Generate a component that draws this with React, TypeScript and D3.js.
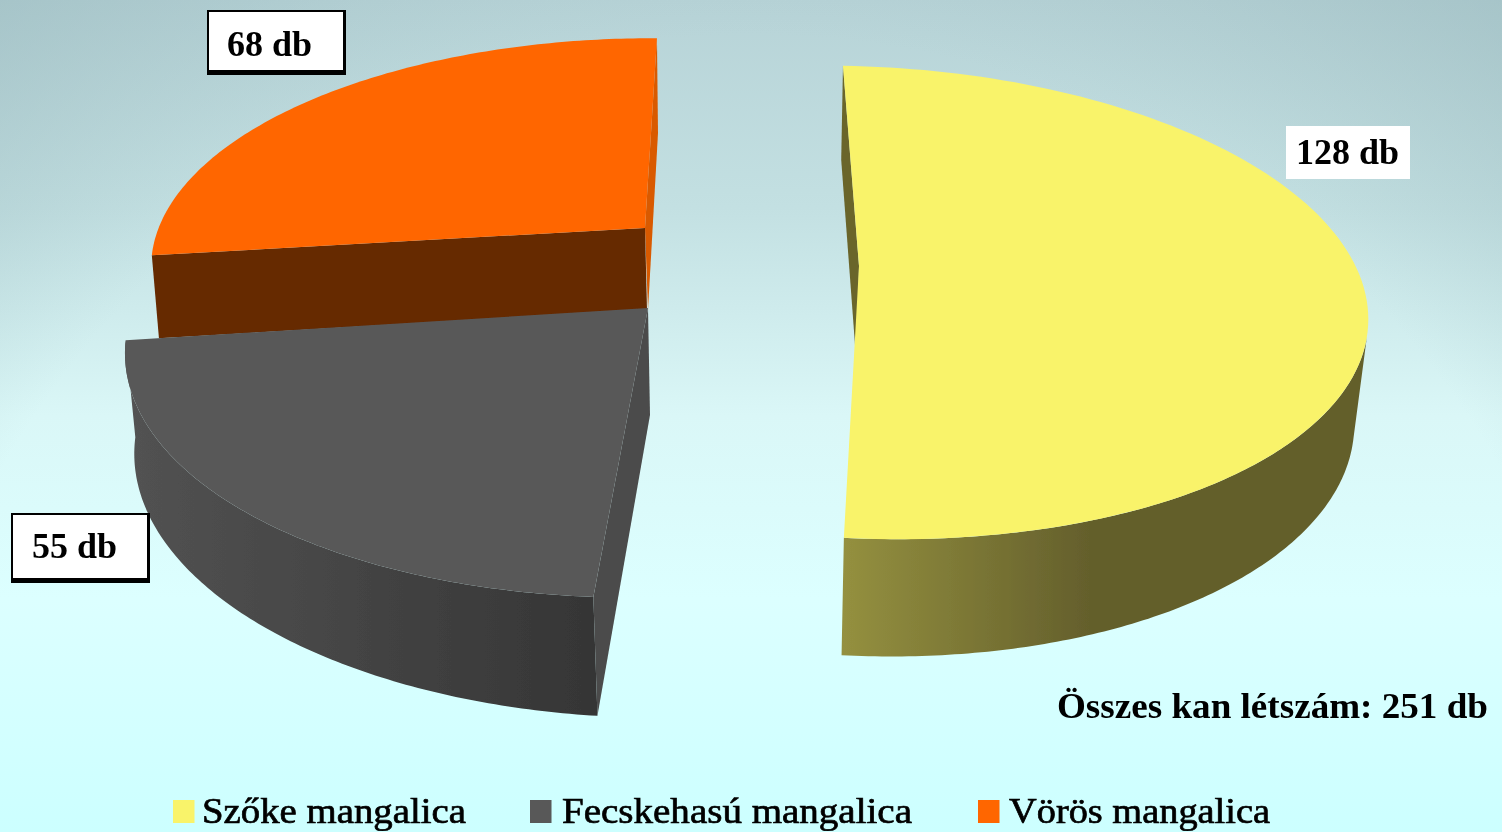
import React from "react";
import * as d3 from "d3";

const categories = ["Szőke mangalica", "Fecskehasú mangalica", "Vörös mangalica"];
const values = [128, 55, 68];
const valueLabels = ["128 db", "55 db", "68 db"];
const totalLabel = "Összes kan létszám: 251 db";
const topColors = ["#f9f36a", "#595959", "#ff6600"];

const W = 1502;
const H = 832;

type Frame = { a: number[]; u: number[]; v: number[]; k: number };
// Perspective frames of the exploded slices: rim of the top face, rim of the bottom face
const frames: { top: Frame; bottom: Frame }[] = [
  {
    top: { a: [859, 266], u: [500, 7.8], v: [-18.5, -231], k: 0.154 },
    bottom: { a: [856.6, 366], u: [487, 6.5], v: [-18, -241], k: 0.17 },
  },
  {
    top: { a: [648, 308], u: [514.4, 0.5], v: [14.1, -245], k: 0.154 },
    bottom: { a: [650, 415], u: [506, 11.2], v: [12, -251], k: 0.17 },
  },
  {
    top: { a: [645, 228], u: [485.6, 2], v: [13.8, -219], k: 0.154 },
    bottom: { a: [647, 310], u: [480, 2], v: [10, -225], k: 0.17 },
  },
];

const project = (f: Frame, t: number): [number, number] => {
  const s = Math.sin(t);
  const c = Math.cos(t);
  const d = 1 + f.k * c;
  return [f.a[0] + (s * f.u[0] + c * f.v[0]) / d, f.a[1] + (s * f.u[1] + c * f.v[1]) / d];
};

const arcs = d3.pie<number>().sort(null).startAngle(0).endAngle(2 * Math.PI)(values);
const rim = (f: Frame, a0: number, a1: number): [number, number][] =>
  d3.range(0, 121).map((i) => project(f, a0 + ((a1 - a0) * i) / 120));
const line = d3.line();
const poly = (pts: [number, number][]) => (line(pts) as string) + "Z";

const labelBoxes = [
  { x: 1286, y: 126, w: 124, h: 53, tx: 1296, ty: 164, border: false },
  { x: 13, y: 515, w: 134, h: 63, tx: 32, ty: 558, border: true },
  { x: 209, y: 12, w: 134, h: 58, tx: 227, ty: 56, border: true },
];
const legendLayout = [
  { sx: 173, tx: 202, tw: 264 },
  { sx: 530, tx: 562, tw: 350 },
  { sx: 978, tx: 1009, tw: 261 },
];

export default function App() {
  const [yA, gA, oA] = arcs;
  const [yF, gF, oF] = frames;

  const yellowWallStart = (105 * Math.PI) / 180;
  const yellowWall = [...rim(yF.top, yellowWallStart, yA.endAngle), ...rim(yF.bottom, yA.endAngle, yellowWallStart)];
  const yellowSliver: [number, number][] = [
    project(yF.top, 0),
    project(yF.bottom, 0),
    [yF.bottom.a[0], yF.bottom.a[1]],
    [yF.top.a[0], yF.top.a[1]],
  ];
  const yellowTop: [number, number][] = [[yF.top.a[0], yF.top.a[1]], ...rim(yF.top, yA.startAngle, yA.endAngle)];

  const greyStart = gA.startAngle;
  const greyWall = [...rim(gF.top, greyStart, gA.endAngle), ...rim(gF.bottom, gA.endAngle, greyStart)];
  const greyFace: [number, number][] = [
    [gF.top.a[0], gF.top.a[1]],
    [gF.bottom.a[0], gF.bottom.a[1]],
    project(gF.bottom, greyStart),
    project(gF.top, greyStart),
  ];
  const greyTop: [number, number][] = [[gF.top.a[0], gF.top.a[1]], ...rim(gF.top, gA.startAngle, gA.endAngle)];

  const orangeFace: [number, number][] = [
    [oF.top.a[0], oF.top.a[1]],
    project(oF.top, oA.startAngle),
    project(oF.bottom, oA.startAngle),
    [oF.bottom.a[0], oF.bottom.a[1]],
  ];
  const orangeSliver: [number, number][] = [
    project(oF.top, oA.endAngle),
    [658, 133],
    [oF.bottom.a[0] + 1, oF.bottom.a[1]],
    [oF.top.a[0], oF.top.a[1]],
  ];
  const orangeTop: [number, number][] = [[oF.top.a[0], oF.top.a[1]], ...rim(oF.top, oA.startAngle, oA.endAngle)];

  return (
    <svg
      width={W}
      height={H}
      viewBox={`0 0 ${W} ${H}`}
      style={{ position: "absolute", left: 0, top: 0, display: "block" }}
    >
      <defs>
        <linearGradient id="bg" x1="0" y1="0" x2="0" y2="1">
          <stop offset="0" stopColor="#b7d3d7" />
          <stop offset="0.25" stopColor="#c3e0e2" />
          <stop offset="0.5" stopColor="#daf7f7" />
          <stop offset="0.72" stopColor="#dcffff" />
          <stop offset="1" stopColor="#ccffff" />
        </linearGradient>
        <radialGradient id="corner" gradientUnits="userSpaceOnUse" cx="751" cy="900" r="1200">
          <stop offset="0.72" stopColor="#8fb0b5" stopOpacity="0" />
          <stop offset="1" stopColor="#8fb0b5" stopOpacity="0.45" />
        </radialGradient>
        <linearGradient id="yellowWall" gradientUnits="userSpaceOnUse" x1="843" y1="0" x2="1090" y2="0">
          <stop offset="0" stopColor="#94903f" />
          <stop offset="1" stopColor="#645f2c" />
        </linearGradient>
        <linearGradient id="greyWall" gradientUnits="userSpaceOnUse" x1="130" y1="0" x2="597" y2="0">
          <stop offset="0" stopColor="#525252" />
          <stop offset="1" stopColor="#353535" />
        </linearGradient>
        <filter id="soft" x="0" y="0" width="100%" height="100%">
          <feGaussianBlur stdDeviation="0.5" />
        </filter>
      </defs>

      <rect width={W} height={H} fill="url(#bg)" />
      <rect width={W} height={H} fill="url(#corner)" />

      <g filter="url(#soft)">
        {/* Vörös */}
        <path d={poly(orangeSliver)} fill="#d95a00" />
        <path d={poly(orangeFace)} fill="#662900" />
        <path d={poly(orangeTop)} fill={topColors[2]} />

        {/* Fecskehasú */}
        <path d={poly(greyWall)} fill="url(#greyWall)" />
        <path d={poly(greyFace)} fill="#4b4b4b" />
        <path d={poly(greyTop)} fill={topColors[1]} />

        {/* Szőke */}
        <path d={poly(yellowWall)} fill="url(#yellowWall)" />
        <path d={poly(yellowSliver)} fill="#6a652c" />
        <path d={poly(yellowTop)} fill={topColors[0]} />

        {labelBoxes.map((b, i) => (
          <g key={valueLabels[i]}>
            {b.border && <rect x={b.x - 2} y={b.y - 2} width={b.w + 5} height={b.h + 7} fill="#000" />}
            <rect x={b.x} y={b.y} width={b.w} height={b.h} fill="#fff" />
            <text x={b.tx} y={b.ty} fontFamily="Liberation Serif" fontWeight="bold" fontSize={36} fill="#000">
              {valueLabels[i]}
            </text>
          </g>
        ))}

        <text
          x={1057}
          y={718}
          fontFamily="Liberation Serif"
          fontWeight="bold"
          fontSize={36}
          fill="#000"
          textLength={431}
          lengthAdjust="spacingAndGlyphs"
        >
          {totalLabel}
        </text>

        {categories.map((c, i) => (
          <g key={c}>
            <rect x={legendLayout[i].sx} y={800} width={21.5} height={23} fill={topColors[i]} />
            <text
              x={legendLayout[i].tx}
              y={823}
              fontFamily="Liberation Serif"
              fontSize={36}
              fill="#000"
              stroke="#000"
              strokeWidth={0.7}
              textLength={legendLayout[i].tw}
              lengthAdjust="spacingAndGlyphs"
            >
              {c}
            </text>
          </g>
        ))}
      </g>
    </svg>
  );
}
